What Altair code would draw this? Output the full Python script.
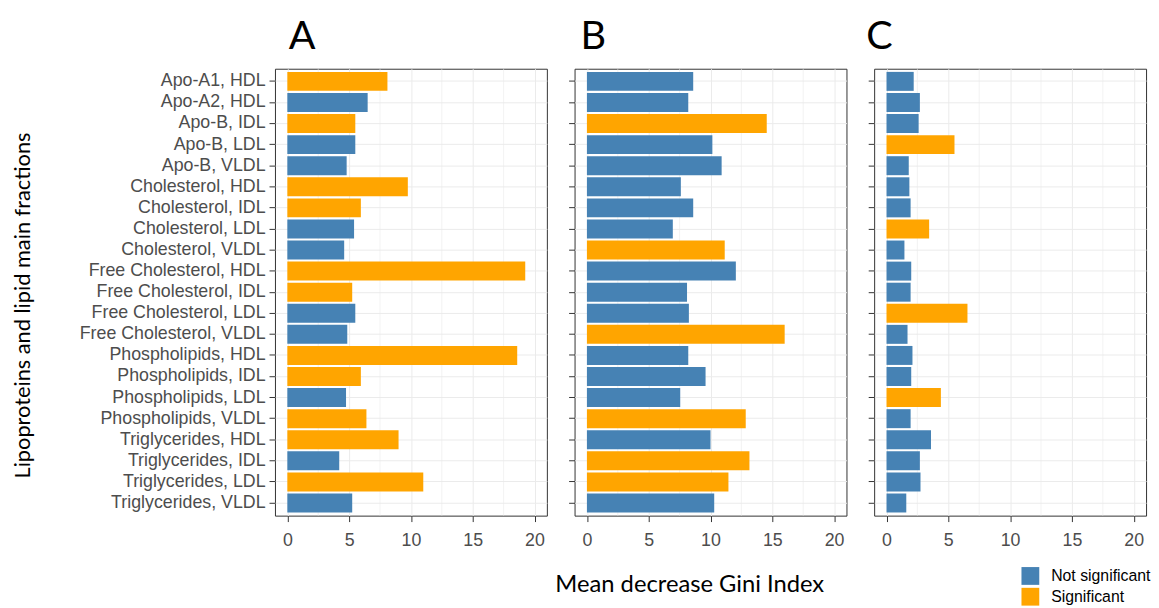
import altair as alt
import pandas as pd

labels = ["Apo-A1, HDL", "Apo-A2, HDL", "Apo-B, IDL", "Apo-B, LDL", "Apo-B, VLDL",
          "Cholesterol, HDL", "Cholesterol, IDL", "Cholesterol, LDL", "Cholesterol, VLDL",
          "Free Cholesterol, HDL", "Free Cholesterol, IDL", "Free Cholesterol, LDL", "Free Cholesterol, VLDL",
          "Phospholipids, HDL", "Phospholipids, IDL", "Phospholipids, LDL", "Phospholipids, VLDL",
          "Triglycerides, HDL", "Triglycerides, IDL", "Triglycerides, LDL", "Triglycerides, VLDL"]

values_A = [8.1, 6.5, 5.5, 5.5, 4.8, 9.75, 5.95, 5.4, 4.6, 19.25, 5.25, 5.5, 4.85,
            18.6, 5.95, 4.75, 6.4, 9.0, 4.2, 11.0, 5.25]
values_B = [8.6, 8.2, 14.55, 10.15, 10.9, 7.6, 8.6, 6.95, 11.15, 12.05, 8.1, 8.25, 16.0,
            8.2, 9.6, 7.55, 12.85, 10.0, 13.15, 11.45, 10.3]
values_C = [2.2, 2.7, 2.6, 5.5, 1.8, 1.85, 1.95, 3.45, 1.45, 2.0, 1.95, 6.55, 1.7,
            2.1, 2.0, 4.4, 1.95, 3.6, 2.7, 2.75, 1.6]

sig_A = "SNSNNSSNNSSNNSSNSSNSN"
sig_B = "NNSNNNNNSNNNSNNNSNSSN"
sig_C = "NNNSNNNSNNNSNNNSNNNNN"

panel_letters = ["A", "B", "C"]
groups = ["Not significant", "Significant"]
colors = ["#4682B4", "#FFA500"]
x_ticks = [0, 5, 10, 15, 20]
minor_ticks = [2.5, 7.5, 12.5, 17.5]

W, H = 275, 452


def frame(vals, sig):
    return pd.DataFrame({
        "label": labels,
        "value": vals,
        "group": [groups[1] if s == "S" else groups[0] for s in sig],
    })


def panel(vals, sig, letter, dx, first=False, xtitle=False):
    df = frame(vals, sig)
    xscale = alt.Scale(domain=[-1, 21], nice=False, zero=False)

    if first:
        yaxis = alt.Axis(
            bandPosition=0.5, labels=True, ticks=True, grid=True,
            title="Lipoproteins and lipid main fractions",
            titleX=-255, titleY=239, titleAngle=270, titleAlign="center",
            titleBaseline="middle", titleFont="Lato", titleFontSize=22,
            titleFontWeight="normal", titleColor="#000000",
            labelPadding=4, tickSize=6, labelLimit=300,
        )
    else:
        yaxis = alt.Axis(bandPosition=0.5, labels=False, ticks=True, grid=True,
                         title=None, tickSize=6)
    if xtitle:
        xaxis = alt.Axis(values=x_ticks, title="Mean decrease Gini Index",
                         titleX=116, titleY=70, titleAlign="center",
                         titleBaseline="middle", titleFont="Lato", titleFontSize=24,
                         titleFontWeight="normal", titleColor="#000000",
                         labelPadding=10, tickSize=6)
    else:
        xaxis = alt.Axis(values=x_ticks, title=None, labelPadding=10, tickSize=6)

    minor = alt.Chart(pd.DataFrame({"value": minor_ticks})).mark_rule(
        color="#EBEBEB", strokeWidth=0.6
    ).encode(x=alt.X("value:Q", scale=xscale, axis=xaxis))

    bars = alt.Chart(df).mark_bar().encode(
        y=alt.Y("label:N", sort=labels,
                scale=alt.Scale(paddingInner=0.1, paddingOuter=0.15),
                axis=yaxis),
        x=alt.X("value:Q", scale=xscale, axis=xaxis),
        color=alt.Color("group:N",
                        scale=alt.Scale(domain=groups, range=colors),
                        legend=alt.Legend(title=None, orient="none", legendX=755, legendY=504,
                                          symbolType="square", symbolSize=324,
                                          symbolStrokeWidth=0, labelFont="Liberation Sans",
                                          labelFontSize=16, labelColor="#000000",
                                          labelOffset=12, rowPadding=3, padding=0)),
    )
    title = alt.Chart(pd.DataFrame({"t": [letter]})).mark_text(
        align="left", baseline="alphabetic", fontSize=40, font="Lato",
        color="#000000"
    ).encode(text="t:N", x=alt.value(dx), y=alt.value(-20))
    return alt.layer(minor, bars, title).properties(width=W, height=H)


pA = panel(values_A, sig_A, panel_letters[0], 14, first=True)
pB = panel(values_B, sig_B, panel_letters[1], 6, xtitle=True)
pC = panel(values_C, sig_C, panel_letters[2], -8)

chart = alt.hconcat(pA, pB, pC, spacing=28, bounds="flush").resolve_scale(
    x="independent", y="independent", color="shared"
).configure_view(
    stroke="#333333", strokeWidth=1
).configure_axis(
    domain=False, tickColor="#333333", tickWidth=1,
    labelColor="#4D4D4D", labelFont="Liberation Sans", labelFontSize=18,
    gridColor="#EBEBEB", gridWidth=1,
).properties(
    padding={"left": 3, "top": 5, "right": 0, "bottom": 0},
    background="#FFFFFF",
)

chart.save("out.html", embed_options={"renderer": "svg", "actions": False})
